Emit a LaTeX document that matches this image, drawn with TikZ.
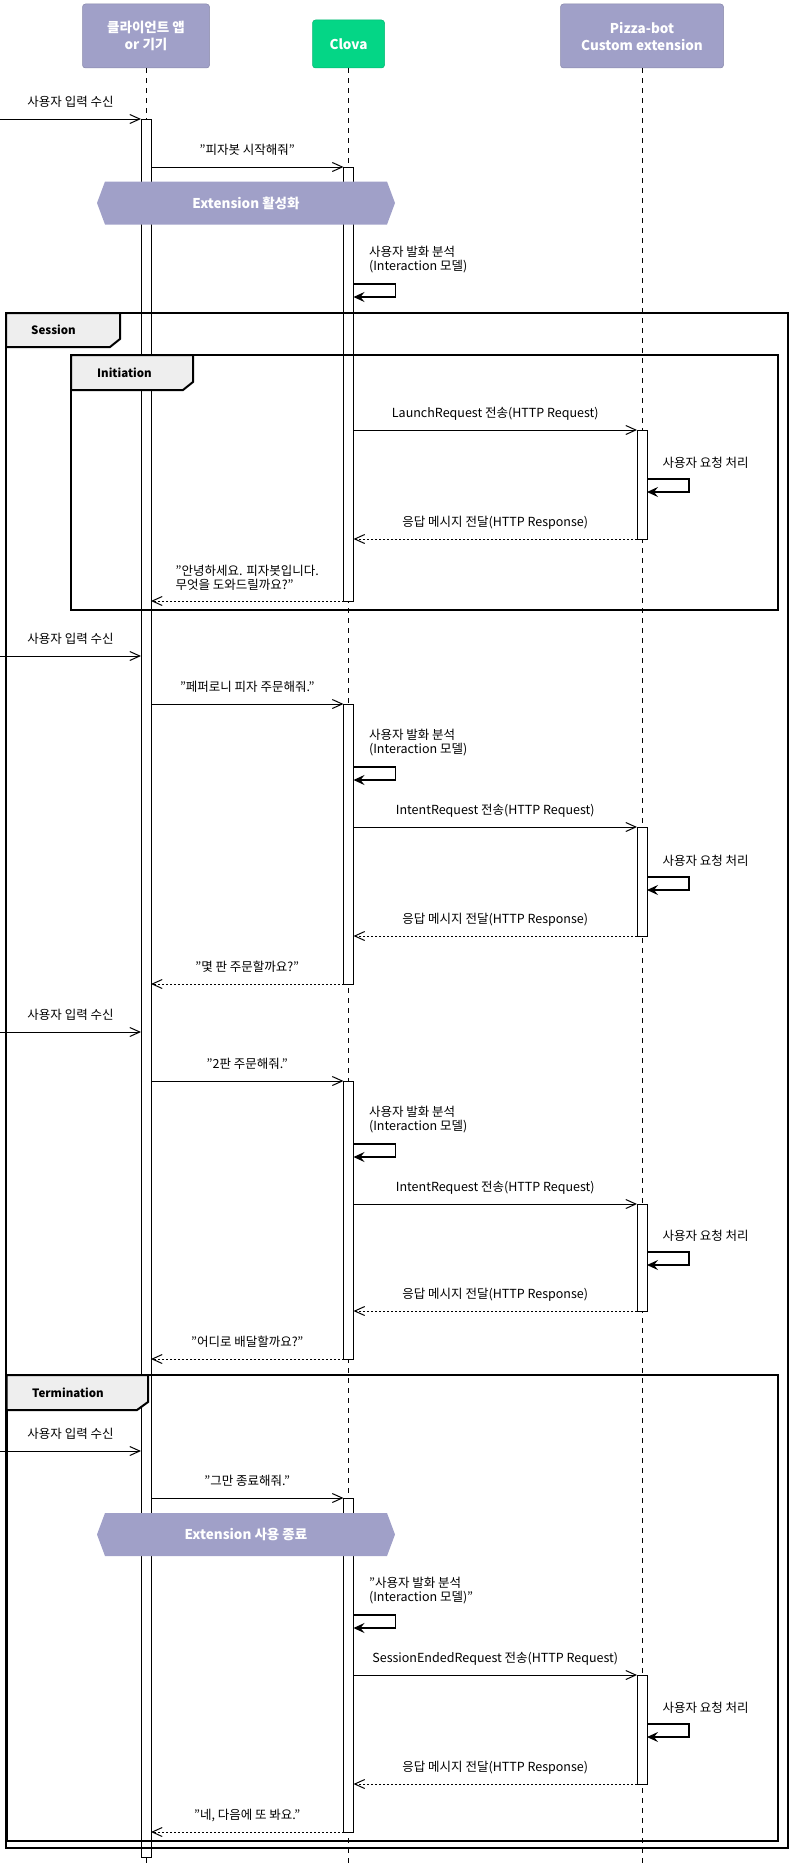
\documentclass[tikz,border=0pt]{standalone}
\usepackage{fontspec}
\setmainfont{Noto Sans CJK KR}
\usetikzlibrary{arrows.meta}

\definecolor{partlav}{RGB}{160,160,200}
\definecolor{clovagreen}{RGB}{4,214,134}
\definecolor{tabgray}{RGB}{238,238,238}
\newcommand\msgfont{\fontsize{12.5}{14}\selectfont}

\tikzset{
  part/.style={draw=partlav!85!black, line width=0.5pt, fill=partlav, rounded corners=3pt, text=white, font=\bfseries\fontsize{13.5}{17}\selectfont, align=center, inner sep=0pt},
  life/.style={dash pattern=on 5pt off 5pt, line width=1pt},
  actbar/.style={draw, fill=white, line width=1pt, minimum width=10pt, inner sep=0pt, outer sep=0pt},
  msg/.style={-{Straight Barb[length=10pt,width=9pt]}, line width=1pt},
  ret/.style={msg, dash pattern=on 2pt off 2pt},
  selfmsg/.style={-{Stealth[length=11pt,width=10pt,inset=4pt]}, line width=1.2pt},
  lbl2/.style={midway, above=10pt, inner sep=0pt, font=\msgfont, align=left},
  lbl/.style={lbl2, text height=10pt, text depth=2pt},
  slbl/.style={anchor=south west, inner sep=0pt, xshift=15pt, yshift=10pt, align=left, font=\msgfont},
  frame/.style={line width=2pt},
  tab/.style={frame, fill=tabgray},
  tablbl/.style={anchor=west, inner sep=0pt, font=\bfseries\fontsize{11.5}{14}\selectfont},
  hexlbl/.style={text=white, inner sep=0pt, font=\bfseries\fontsize{13.5}{17}\selectfont}
}

\begin{document}
\begin{tikzpicture}[x=1pt, y=-1pt]
\useasboundingbox (0,0) rectangle (799,1876);
\node[part, minimum width=127pt, minimum height=64pt] (client) at (146,36) {클라이언트 앱\\or 기기};
\node[part, fill=clovagreen, draw=clovagreen!85!black, minimum width=72pt, minimum height=48pt] (clova) at (348.5,44) {Clova};
\node[part, minimum width=163pt, minimum height=64pt] (pizza) at (642,36) {Pizza-bot\\Custom extension};
\coordinate (bottom) at (0,1865);
\foreach \p in {client, clova, pizza}
  \draw[life] (\p.south) -- (\p.south |- bottom);

\node[actbar, minimum height=1738pt] (cb) at (146,988) {};
\foreach \n/\a/\b in {v1/167/601, v2/704/984, v3/1081/1359, v4/1498/1832}
  \node[actbar, minimum height={(\b-\a)*1pt}] (\n) at (348.5,{(\a+\b)/2}) {};
\foreach \n/\a/\b in {p1/430/539, p2/827/936, p3/1204/1311, p4/1675/1784}
  \node[actbar, minimum height={(\b-\a)*1pt}] (\n) at (642,{(\a+\b)/2}) {};

\draw[frame] (6,313) rectangle (788,1848);
\draw[frame] (71,355) rectangle (778,610);
\draw[frame] (6.5,1375) rectangle (778,1841);
\draw[tab] (6,313) -- (120,313) -- (120,339) -- (110,347) -- (6,347) -- cycle;
\node[tablbl] (session) at (31,330) {Session};
\draw[tab] (71,355) -- (193,355) -- (193,382) -- (183,390) -- (71,390) -- cycle;
\node[tablbl] (initiation) at (97,372.5) {Initiation};
\draw[tab] (6.5,1375) -- (148,1375) -- (148,1402) -- (137,1410) -- (6.5,1410) -- cycle;
\node[tablbl] (termination) at (32,1392.5) {Termination};

\foreach \y/\t/\n in {203/Extension 활성화/activate, 1534.5/Extension 사용 종료/deactivate} {
  \fill[partlav] (97,\y) -- (105,\y-21.5) -- (387,\y-21.5) -- (395,\y) -- (387,\y+21.5) -- (105,\y+21.5) -- cycle;
  \node[hexlbl] (\n) at (246,\y) {\t};
}

\foreach \y [count=\i] in {119,656,1032,1451} {
  \coordinate (in\i) at (0,\y);
  \draw[msg] (in\i) -- (cb.west |- in\i) node[lbl] {사용자 입력 수신};
}

\draw[msg] (cb.east |- v1.north) -- (v1.north west) node[lbl] {"피자봇 시작해줘"};
\draw[msg] (cb.east |- v2.north) -- (v2.north west) node[lbl] {"페퍼로니 피자 주문해줘."};
\draw[msg] (cb.east |- v3.north) -- (v3.north west) node[lbl] {"2판 주문해줘."};
\draw[msg] (cb.east |- v4.north) -- (v4.north west) node[lbl] {"그만 종료해줘."};

\foreach \n/\y in {v1/284, v2/767, v3/1144, v4/1615}
  \coordinate (\n-self) at (\n.east |- 0,\y);
\draw[selfmsg] (v1-self) node[slbl] {사용자 발화 분석\\(Interaction 모델)} -- ++(42,0) -- ++(0,13) -- ++(-42,0);
\draw[selfmsg] (v2-self) node[slbl] {사용자 발화 분석\\(Interaction 모델)} -- ++(42,0) -- ++(0,13) -- ++(-42,0);
\draw[selfmsg] (v3-self) node[slbl] {사용자 발화 분석\\(Interaction 모델)} -- ++(42,0) -- ++(0,13) -- ++(-42,0);
\draw[selfmsg] (v4-self) node[slbl] {"사용자 발화 분석\\(Interaction 모델)"} -- ++(42,0) -- ++(0,13) -- ++(-42,0);

\draw[msg] (v1.east |- p1.north) -- (p1.north west) node[lbl] {LaunchRequest 전송(HTTP Request)};
\draw[msg] (v2.east |- p2.north) -- (p2.north west) node[lbl] {IntentRequest 전송(HTTP Request)};
\draw[msg] (v3.east |- p3.north) -- (p3.north west) node[lbl] {IntentRequest 전송(HTTP Request)};
\draw[msg] (v4.east |- p4.north) -- (p4.north west) node[lbl] {SessionEndedRequest 전송(HTTP Request)};

\foreach \n/\y in {p1/479, p2/877, p3/1252, p4/1724} {
  \coordinate (\n-self) at (\n.east |- 0,\y);
  \draw[selfmsg] (\n-self) node[slbl] {사용자 요청 처리} -- ++(42,0) -- ++(0,13) -- ++(-42,0);
}

\foreach \i in {1,...,4}
  \draw[ret] (p\i.south west) -- (v\i.east |- p\i.south) node[lbl] {응답 메시지 전달(HTTP Response)};

\draw[ret] (v1.south west) -- (cb.east |- v1.south) node[lbl2] {"안녕하세요. 피자봇입니다.\\무엇을 도와드릴까요?"};
\draw[ret] (v2.south west) -- (cb.east |- v2.south) node[lbl] {"몇 판 주문할까요?"};
\draw[ret] (v3.south west) -- (cb.east |- v3.south) node[lbl] {"어디로 배달할까요?"};
\draw[ret] (v4.south west) -- (cb.east |- v4.south) node[lbl] {"네, 다음에 또 봐요."};
\end{tikzpicture}
\end{document}
